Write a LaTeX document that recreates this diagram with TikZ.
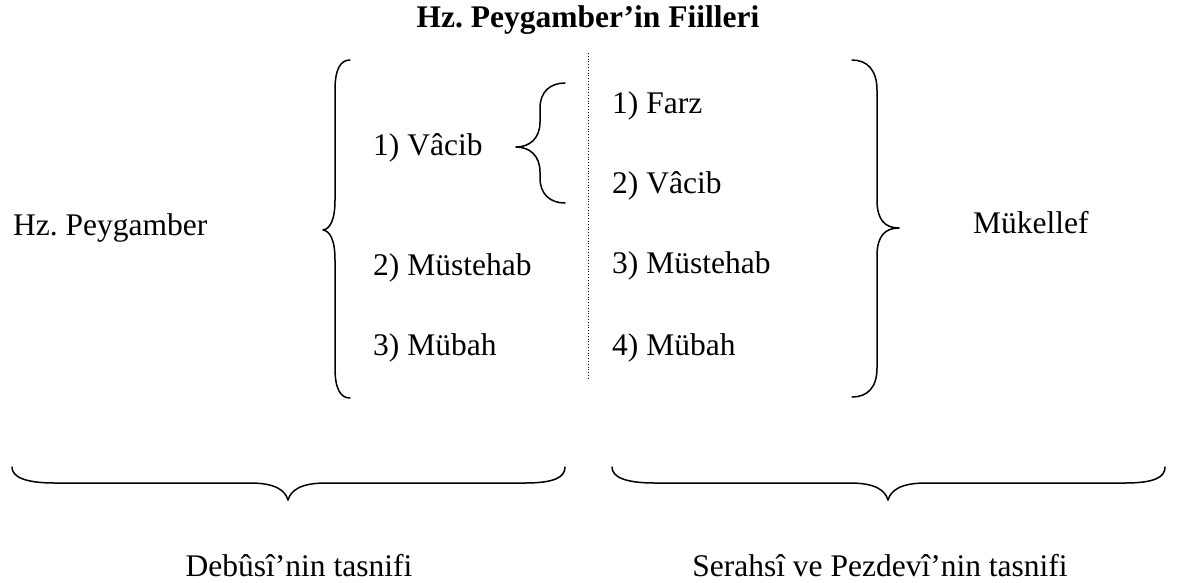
\documentclass[tikz,border=0pt]{standalone}
\usepackage{fontspec}
\setmainfont{Liberation Serif}
\frenchspacing
\begin{document}
\begin{tikzpicture}[x=1pt,y=-1pt,
  lbl/.style={inner sep=0pt,font=\fontsize{31.5}{36}\selectfont},
  brace/.style={line width=1.5pt,line cap=round,line join=round}]
\useasboundingbox (0,0) rectangle (1185,582);
% title
\node[lbl,anchor=base,font=\fontsize{31.5}{36}\selectfont\bfseries] (title) at (588,27) {Hz. Peygamber’in Fiilleri};
% side labels
\node[lbl,anchor=base west] (hp) at (13,235) {Hz. Peygamber};
\node[lbl,anchor=base west] (muk) at (973,233) {Mükellef};
% left column
\node[lbl,anchor=base west] (l1) at (373,155) {1) Vâcib};
\node[lbl,anchor=base west] (l2) at (373,275) {2) Müstehab};
\node[lbl,anchor=base west] (l3) at (373,355) {3) Mübah};
% right column
\node[lbl,anchor=base west] (r1) at (612,113) {1) Farz};
\node[lbl,anchor=base west] (r2) at (612,193) {2) Vâcib};
\node[lbl,anchor=base west] (r3) at (612,273) {3) Müstehab};
\node[lbl,anchor=base west] (r4) at (612,355) {4) Mübah};
% bottom labels
\node[lbl,anchor=base] (deb) at (299,576) {Debûsî’nin tasnifi};
\node[lbl,anchor=base] (ser) at (880,576) {Serahsî ve Pezdevî’nin tasnifi};
% dotted divider
\coordinate (dtop) at (588,53);
\coordinate (dbot) at (588,380);
\draw[line width=0.8pt,dotted] (dtop) -- (dbot);
% big left brace
\draw[brace] (350,60) .. controls (340,60) and (335,70) .. (335,90) -- (335,200)
  .. controls (335,220) and (330,229) .. (323,230)
  .. controls (330,231) and (335,240) .. (335,260) -- (335,368)
  .. controls (335,388) and (340,398) .. (350,398);
% small brace
\draw[brace] (565,83) .. controls (550,83) and (540,92) .. (540,108) -- (540,122)
  .. controls (540,138) and (530,147) .. (516,147)
  .. controls (530,147) and (540,156) .. (540,172) -- (540,178)
  .. controls (540,194) and (550,203) .. (565,203);
% right brace
\draw[brace] (852,60) .. controls (867,60) and (877,70) .. (877,90) -- (877,200)
  .. controls (877,220) and (885,228) .. (899,228)
  .. controls (885,228) and (877,236) .. (877,256) -- (877,368)
  .. controls (877,388) and (867,397) .. (852,397);
% bottom left brace
\draw[brace] (12,467) .. controls (12,477) and (25,483) .. (55,483) -- (250,483)
  .. controls (275,483) and (285,490) .. (288,500)
  .. controls (291,490) and (301,483) .. (326,483) -- (525,483)
  .. controls (555,483) and (565,477) .. (565,467);
% bottom right brace
\draw[brace] (612,467) .. controls (612,477) and (625,483) .. (655,483) -- (850,483)
  .. controls (875,483) and (885,490) .. (888,500)
  .. controls (891,490) and (901,483) .. (926,483) -- (1125,483)
  .. controls (1155,483) and (1165,477) .. (1165,467);
\end{tikzpicture}
\end{document}
